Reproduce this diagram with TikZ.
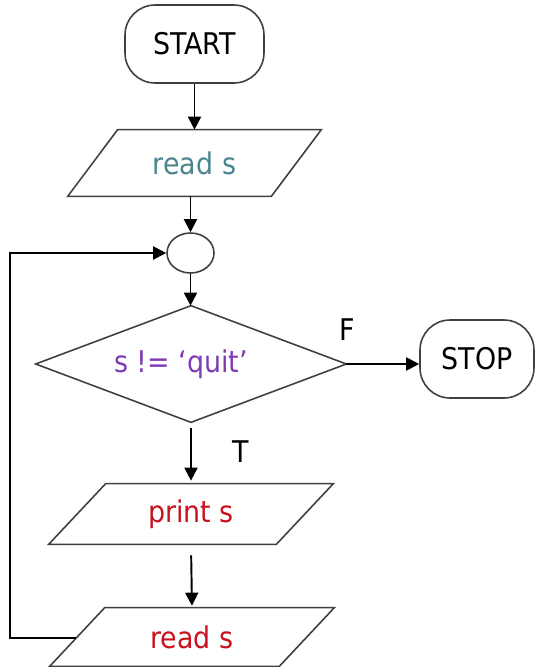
\documentclass[tikz,border=0pt]{standalone}
\usepackage{fontspec}
\setmainfont{DejaVu Sans}[FakeStretch=0.9]
\usetikzlibrary{arrows.meta,calc,shapes.geometric}
\definecolor{readteal}{RGB}{74,134,142}
\definecolor{condpurple}{RGB}{125,60,180}
\definecolor{outred}{RGB}{200,18,30}
\definecolor{outline}{RGB}{64,64,64}
% outline of an input/output parallelogram around a text node
\newcommand\drawparallelogram[2]{%
  \draw[frame] ($(#1.north west)+(#2,0)$) -- (#1.north east)
    -- ($(#1.south east)+(-#2,0)$) -- (#1.south west) -- cycle;}
\begin{document}
\begin{tikzpicture}[x=0.02cm,y=-0.02cm,
  every node/.style={font=\fontsize{17}{20}\selectfont, inner sep=0pt},
  frame/.style={draw=outline, line width=0.9pt},
  terminal/.style={frame, rectangle, rounded corners=0.6cm,
    minimum width=2.78cm, minimum height=1.56cm},
  slot/.style={rectangle, minimum width=5.68cm},
  flow/.style={line width=1.1pt, -{Triangle[length=2.6mm,width=2.6mm]}},
  ]
\useasboundingbox (0,0) rectangle (537,667);

% nodes
\node[terminal] (start) at (194.5,44) {START};
\node[slot, minimum width=5.06cm, minimum height=1.32cm, text=readteal] (read1) at (194.5,163) {read s};
\node[frame, ellipse, minimum width=0.94cm, minimum height=0.8cm] (join) at (190.5,253) {};
\node[rectangle, minimum width=6.2cm, minimum height=2.32cm, text=condpurple] (test) at (191,364) {s != ‘quit’\hspace*{0.4cm}};
\node[terminal, minimum width=2.28cm] (stop) at (477,359) {STOP};
\node[slot, minimum height=1.2cm, text=outred] (print) at (191,514) {print s};
\node[slot, minimum height=1.16cm, text=outred] (read2) at (192,637) {read s};
\node (flab) at (347,330) {F};
\node (tlab) at (241,452) {T};

% shape outlines
\drawparallelogram{read1}{50}
\drawparallelogram{print}{57}
\drawparallelogram{read2}{55}
\draw[frame] (test.north) -- (test.east) -- (test.south) -- (test.west) -- cycle;

% connectors
\draw[flow] (start) -- (read1);
\draw[flow] (join.north |- read1.south) -- (join.north);
\draw[flow] (join.south) -- (join.south |- test.north);
\draw[flow] (test.east) -- (test.east -| stop.west);
\draw[flow, shorten <=0.12cm, shorten >=0.06cm] (test.south) -- (print.north);
\draw[flow, shorten <=0.22cm, shorten >=0.04cm] (print.south) -- (read2.north);
\coordinate (back) at ($($(read2.north west)+(55,0)$)!0.517!(read2.south west)$);
\draw[flow] (back) -- ++(-66,0) |- (join.west);
\end{tikzpicture}
\end{document}
